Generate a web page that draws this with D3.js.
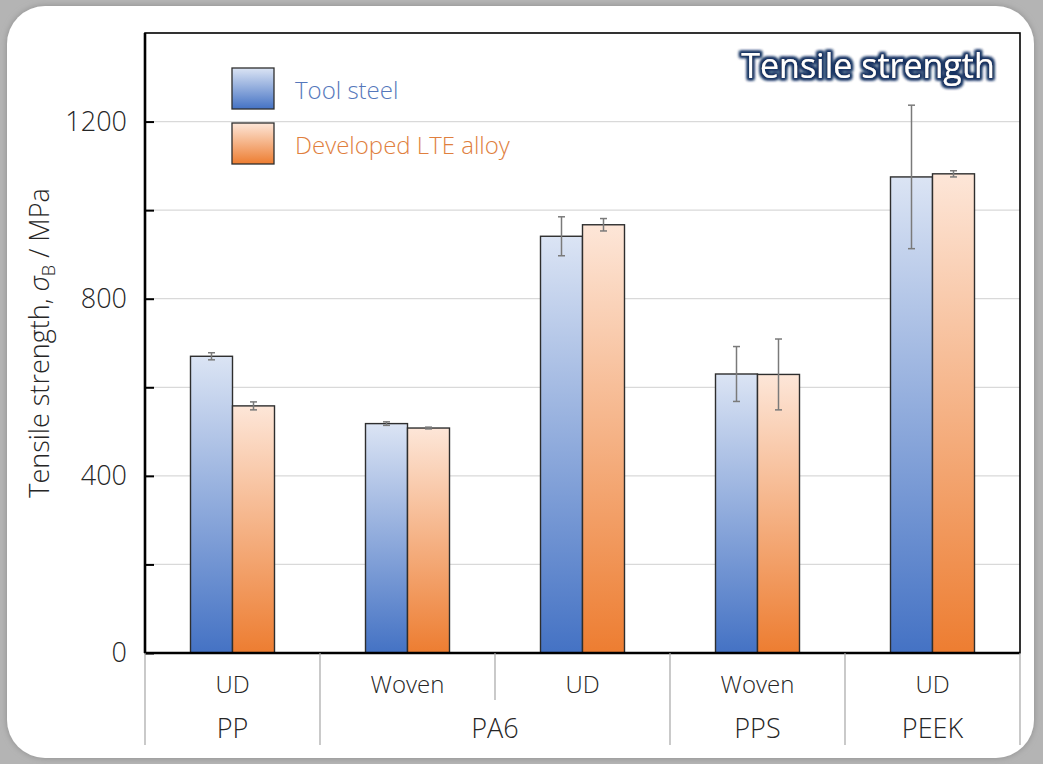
<!DOCTYPE html>
<html>
<head>
<meta charset="utf-8">
<script src="https://cdn.jsdelivr.net/npm/d3@7"></script>
<style>
  html, body { margin: 0; padding: 0; background: #b4b4b4; }
  svg { display: block; font-family: "Open Sans", "Noto Sans", sans-serif; font-weight: 350; }
</style>
</head>
<body>
<svg id="chart" width="1043" height="764"></svg>
<script>
// Fibre form of each specimen and the matrix polymer it belongs to
const forms = ["UD", "Woven", "UD", "Woven", "UD"];
const matrices = ["PP", "PA6", "PA6", "PPS", "PEEK"];

// Tensile strength (MPa) with standard deviation, per mould material
const seriesNames = ["Tool steel", "Developed LTE alloy"];
const toolSteel = [670, 518, 941, 630, 1075];
const toolSteelErr = [8, 4, 44, 62, 162];
const lteAlloy = [558, 508, 967, 629, 1082];
const lteAlloyErr = [9, 2, 14, 80, 7];

const yMajorTicks = [0, 400, 800, 1200];
const yMinorTicks = [200, 600, 1000];

const svg = d3.select("#chart");
const W = 1043, H = 764;
const plot = { left: 145, right: 1020, top: 33, bottom: 653 };

const defs = svg.append("defs");

// soft edge of the white card
const cardShadow = defs.append("filter").attr("id", "cardShadow")
  .attr("x", "-5%").attr("y", "-5%").attr("width", "110%").attr("height", "110%");
cardShadow.append("feGaussianBlur").attr("in", "SourceAlpha").attr("stdDeviation", 3).attr("result", "b");
cardShadow.append("feFlood").attr("flood-color", "#8c8c8c").attr("result", "c");
cardShadow.append("feComposite").attr("in", "c").attr("in2", "b").attr("operator", "in").attr("result", "s");
const m0 = cardShadow.append("feMerge");
m0.append("feMergeNode").attr("in", "s");
m0.append("feMergeNode").attr("in", "SourceGraphic");

// vertical gradients: pale at the top, saturated at the base
const palette = [
  { id: "gradSteel", top: "#dbe4f4", bottom: "#4472c4" },
  { id: "gradLte", top: "#fde6d8", bottom: "#ed7d31" }
];
palette.forEach(p => {
  const g = defs.append("linearGradient").attr("id", p.id)
    .attr("x1", 0).attr("y1", 0).attr("x2", 0).attr("y2", 1);
  g.append("stop").attr("offset", "0%").attr("stop-color", p.top);
  g.append("stop").attr("offset", "100%").attr("stop-color", p.bottom);
});

// glowing outline for the panel title
const glow = defs.append("filter").attr("id", "titleGlow")
  .attr("x", "-10%").attr("y", "-30%").attr("width", "120%").attr("height", "160%");
glow.append("feMorphology").attr("in", "SourceAlpha").attr("operator", "dilate").attr("radius", 2.4).attr("result", "d");
glow.append("feGaussianBlur").attr("in", "d").attr("stdDeviation", 1.8).attr("result", "b");
glow.append("feFlood").attr("flood-color", "#193462").attr("result", "c");
glow.append("feComposite").attr("in", "c").attr("in2", "b").attr("operator", "in").attr("result", "o");
const gm = glow.append("feMerge");
gm.append("feMergeNode").attr("in", "o");
gm.append("feMergeNode").attr("in", "o");
gm.append("feMergeNode").attr("in", "SourceGraphic");

// background card
svg.append("rect").attr("width", W).attr("height", H).attr("fill", "#b4b4b4");
svg.append("rect").attr("x", 7).attr("y", 6).attr("width", 1027).attr("height", 752)
  .attr("rx", 38).attr("ry", 38).attr("fill", "#ffffff").attr("filter", "url(#cardShadow)");

// scales
const keys = d3.range(forms.length);
const x = d3.scaleBand().domain(keys).range([plot.left, plot.right]);
const bw = x.bandwidth();
const xInner = d3.scaleBand().domain(seriesNames).range([bw * 0.26, bw * 0.74]);
const y = d3.scaleLinear().domain([0, 1400]).range([plot.bottom, plot.top]);

// gridlines
svg.append("g").selectAll("line")
  .data(yMajorTicks.concat(yMinorTicks).filter(v => v > 0))
  .join("line")
  .attr("x1", plot.left).attr("x2", plot.right)
  .attr("y1", d => y(d)).attr("y2", d => y(d))
  .attr("stroke", "#d9d9d9").attr("stroke-width", 1.2);

// bars
const series = [
  { name: seriesNames[0], values: toolSteel, errs: toolSteelErr, fill: "url(#gradSteel)" },
  { name: seriesNames[1], values: lteAlloy, errs: lteAlloyErr, fill: "url(#gradLte)" }
];
const barData = [];
series.forEach(s => s.values.forEach((v, i) => barData.push({ i, v, e: s.errs[i], s })));

svg.append("g").selectAll("rect")
  .data(barData)
  .join("rect")
  .attr("x", d => x(d.i) + xInner(d.s.name))
  .attr("y", d => y(d.v))
  .attr("width", xInner.bandwidth())
  .attr("height", d => y(0) - y(d.v))
  .attr("fill", d => d.s.fill)
  .attr("stroke", "#2e2e2e").attr("stroke-width", 1.4);

// error bars
const eg = svg.append("g").attr("stroke", "#7a7a7a").attr("stroke-width", 1.5);
barData.forEach(d => {
  const cx = x(d.i) + xInner(d.s.name) + xInner.bandwidth() / 2;
  eg.append("line").attr("x1", cx).attr("x2", cx).attr("y1", y(d.v + d.e)).attr("y2", y(d.v - d.e));
  [d.v + d.e, d.v - d.e].forEach(v => {
    eg.append("line").attr("x1", cx - 3.5).attr("x2", cx + 3.5).attr("y1", y(v)).attr("y2", y(v));
  });
});

// y axis: inward ticks every 200, labels every 400
const yAxis = d3.axisLeft(y)
  .tickValues(yMajorTicks.concat(yMinorTicks).sort((a, b) => a - b))
  .tickSize(-9).tickPadding(0)
  .tickFormat(d => yMajorTicks.includes(d) ? d : "");
const ya = svg.append("g").attr("transform", `translate(${plot.left},0)`).call(yAxis);
ya.select(".domain").remove();
ya.selectAll(".tick line").attr("stroke", "#000").attr("stroke-width", 2);
ya.selectAll(".tick text").attr("x", -18).attr("font-size", 27).attr("fill", "#262626")
  .attr("font-family", "'Open Sans', 'Noto Sans', sans-serif").attr("font-weight", 350);

// plot frame
svg.append("rect").attr("x", plot.left).attr("y", plot.top)
  .attr("width", plot.right - plot.left).attr("height", plot.bottom - plot.top)
  .attr("fill", "none").attr("stroke", "#000").attr("stroke-width", 1.6);
svg.append("line").attr("x1", plot.left).attr("x2", plot.right).attr("y1", plot.bottom).attr("y2", plot.bottom)
  .attr("stroke", "#000").attr("stroke-width", 2.6);
svg.append("line").attr("x1", plot.left).attr("x2", plot.left).attr("y1", plot.top).attr("y2", plot.bottom)
  .attr("stroke", "#000").attr("stroke-width", 2.6);

// two-level category axis
const sepColor = "#a6a6a6";
const boundaries = [0];
for (let i = 1; i < matrices.length; i++) if (matrices[i] !== matrices[i - 1]) boundaries.push(i);
boundaries.push(matrices.length);
const edgeX = i => i < keys.length ? x(i) : plot.right;

const ca = svg.append("g");
// long separators between matrices
ca.selectAll("line.major").data(boundaries).join("line")
  .attr("x1", edgeX).attr("x2", edgeX)
  .attr("y1", plot.bottom).attr("y2", 745)
  .attr("stroke", sepColor).attr("stroke-width", 1.2);
// short separators between forms within one matrix
const inner = keys.filter(i => i > 0 && !boundaries.includes(i));
ca.selectAll("line.minor").data(inner).join("line")
  .attr("x1", edgeX).attr("x2", edgeX)
  .attr("y1", plot.bottom).attr("y2", 700)
  .attr("stroke", sepColor).attr("stroke-width", 1.2);

ca.selectAll("text.form").data(forms).join("text")
  .attr("x", (d, i) => x(i) + bw / 2).attr("y", 683)
  .attr("text-anchor", "middle").attr("dominant-baseline", "central")
  .attr("font-size", 24).attr("fill", "#262626").text(d => d);

const groups = [];
for (let k = 0; k < boundaries.length - 1; k++) {
  groups.push({ name: matrices[boundaries[k]], a: boundaries[k], b: boundaries[k + 1] });
}
ca.selectAll("text.group").data(groups).join("text")
  .attr("x", d => (edgeX(d.a) + edgeX(d.b)) / 2).attr("y", 727)
  .attr("text-anchor", "middle").attr("dominant-baseline", "central")
  .attr("font-size", 27).attr("fill", "#262626").text(d => d.name);

// y-axis title
const yt = svg.append("text")
  .attr("transform", "translate(49,343) rotate(-90)")
  .attr("text-anchor", "middle")
  .attr("font-size", 27).attr("fill", "#262626");
yt.append("tspan").text("Tensile strength, ");
yt.append("tspan").attr("font-style", "italic").text("σ");
yt.append("tspan").attr("font-size", 18).attr("dy", 6).text("B");
yt.append("tspan").attr("dy", -6).text(" / MPa");

// legend
const legend = svg.append("g");
const legendColors = ["#5577bb", "#e07f3e"];
series.forEach((s, k) => {
  const ly = 68 + k * 55;
  legend.append("rect").attr("x", 232).attr("y", ly).attr("width", 42).attr("height", 41)
    .attr("fill", s.fill).attr("stroke", "#2e2e2e").attr("stroke-width", 1.3);
  legend.append("text").attr("x", 295).attr("y", ly + 21)
    .attr("dominant-baseline", "central").attr("font-size", 24)
    .attr("fill", legendColors[k]).text(s.name);
});

// panel title
svg.append("text").attr("x", 868).attr("y", 65)
  .attr("text-anchor", "middle").attr("dominant-baseline", "central")
  .attr("font-size", 34).attr("font-weight", 400).attr("fill", "#ffffff")
  .attr("filter", "url(#titleGlow)")
  .text("Tensile strength");
</script>
</body>
</html>
